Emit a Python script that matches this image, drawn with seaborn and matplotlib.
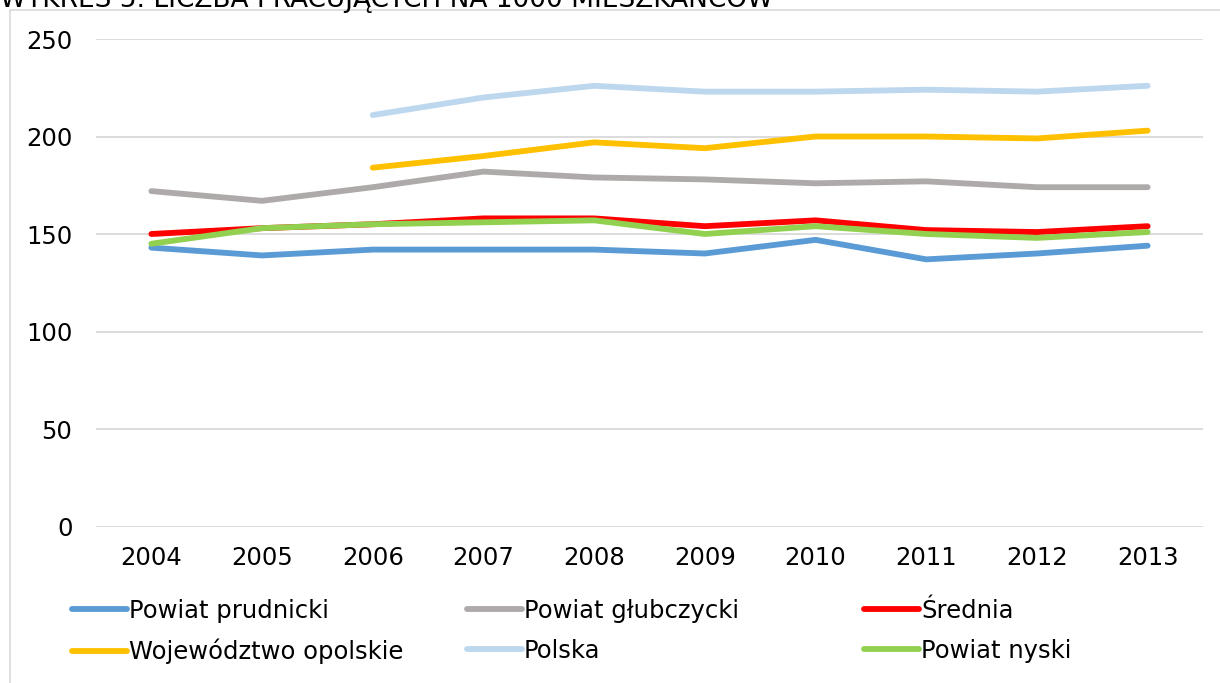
import numpy as np
import pandas as pd
import matplotlib.pyplot as plt
import seaborn as sns
from matplotlib.patches import Rectangle
from matplotlib.lines import Line2D

# Data
years = [2004, 2005, 2006, 2007, 2008, 2009, 2010, 2011, 2012, 2013]
prudnicki = [143, 139, 142, 142, 142, 140, 147, 137, 140, 144]
glubczycki = [172, 167, 174, 182, 179, 178, 176, 177, 174, 174]
srednia = [150, 153, 155, 158, 158, 154, 157, 152, 151, 154]
wojewodztwo = [np.nan, np.nan, 184, 190, 197, 194, 200, 200, 199, 203]
polska = [np.nan, np.nan, 211, 220, 226, 223, 223, 224, 223, 226]
nyski = [145, 153, 155, 156, 157, 150, 154, 150, 148, 151]

series_names = ["Powiat prudnicki", "Powiat głubczycki", "Średnia",
                "Województwo opolskie", "Polska", "Powiat nyski"]
series_values = [prudnicki, glubczycki, srednia, wojewodztwo, polska, nyski]
colors = ["#5B9BD5", "#AEAAAA", "#FF0000", "#FFC000", "#BDD7EE", "#92D050"]

title = "WYKRES 5. LICZBA PRACUJĄCYCH NA 1000 MIESZKAŃCÓW"

rows = []
for name, vals in zip(series_names, series_values):
    for y, v in zip(years, vals):
        rows.append({"rok": y, "seria": name, "wartosc": v})
df = pd.DataFrame(rows).dropna()

sns.set_theme(style="white")
plt.rcParams['font.family'] = ['DejaVu Sans']
plt.rcParams['text.color'] = 'black'
plt.rcParams['xtick.color'] = 'black'
plt.rcParams['ytick.color'] = 'black'
fs = 17.5
lw = 4.2

fig = plt.figure(figsize=(12.2, 6.83), dpi=100)
W, H = 1220, 683

# chart frame border
fig.patches.append(Rectangle((10 / W, -0.1), 1.2, 1 - 10 / H + 0.1, transform=fig.transFigure,
                             fill=False, edgecolor="#d9d9d9", linewidth=1.2))

fig.text(0.0, 1 - 7 / H, title, fontsize=19, va="baseline", ha="left", color="black")

ax = fig.add_axes([96 / W, 1 - 526.5 / H, (1203 - 96) / W, (526.5 - 39) / H])
sns.lineplot(data=df, x="rok", y="wartosc", hue="seria", hue_order=series_names,
             palette=dict(zip(series_names, colors)), linewidth=lw, legend=False, ax=ax)
for ln in ax.get_lines():
    ln.set_solid_capstyle("round")
    ln.set_solid_joinstyle("round")

ax.set_xlim(2003.5, 2013.5)
ax.set_ylim(0, 250)
ax.set_xticks(years)
ax.set_yticks([0, 50, 100, 150, 200, 250])
ax.set_xlabel("")
ax.set_ylabel("")
ax.grid(axis="y", color="#d9d9d9", linewidth=1.3)
ax.grid(axis="x", visible=False)
ax.set_axisbelow(True)
for s in ax.spines.values():
    s.set_visible(False)
ax.tick_params(axis="x", length=0, pad=14, labelsize=fs)
ax.tick_params(axis="y", length=0, pad=17, labelsize=fs)

# legend: three equal-width columns, two rows
handles = [Line2D([0], [0], color=c, linewidth=lw, solid_capstyle="round") for c in colors]
col_x = [72, 467, 864]
for i, x0 in enumerate(col_x):
    hs = [handles[i], handles[i + 3]]
    ls = [series_names[i], series_names[i + 3]]
    leg = fig.legend(hs, ls, loc="upper left", bbox_to_anchor=(x0 / W, 1 - 599 / H),
                     frameon=False, fontsize=fs, handlelength=2.25, handletextpad=0.1,
                     labelspacing=0.65, borderpad=0, borderaxespad=0)

fig.savefig("out.png", dpi=100)
